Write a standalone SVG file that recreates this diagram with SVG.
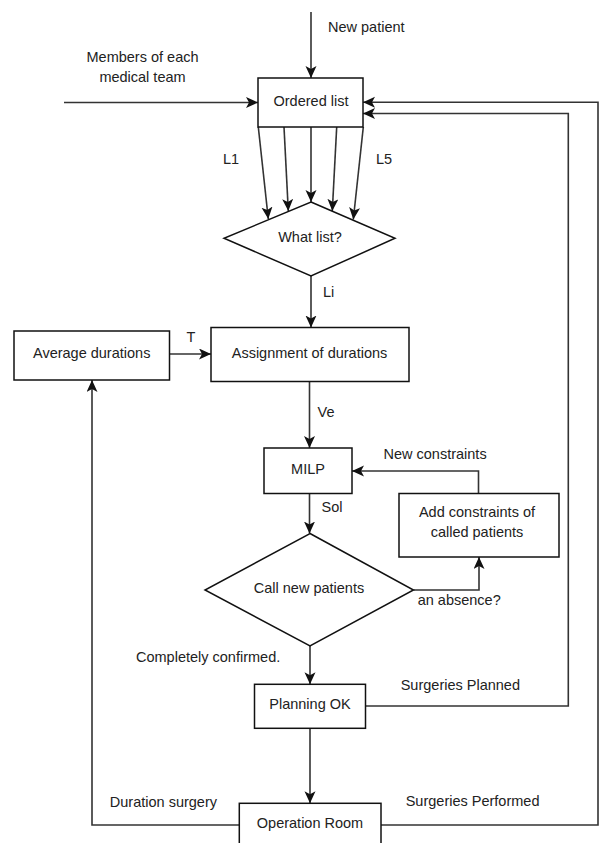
<svg xmlns="http://www.w3.org/2000/svg" width="600" height="843" viewBox="0 0 600 843">
<style>
  .box { fill: #ffffff; stroke: #111111; stroke-width: 1.5; }
  .edge { fill: none; stroke: #333333; stroke-width: 1.6; }
  text { font-family: "Liberation Sans", Arial, sans-serif; font-size: 14.5px; fill: #222222; }
  .c { text-anchor: middle; }
</style>
<defs>
  <marker id="arr" markerUnits="userSpaceOnUse" markerWidth="13" markerHeight="12" refX="12" refY="5.5" orient="auto">
    <path d="M0,0 L12,5.5 L0,11 L3,5.5 Z" fill="#111111"/>
  </marker>
</defs>
<rect width="600" height="843" fill="#ffffff"/>

<g id="connectors">
  <line class="edge" x1="311" y1="12" x2="311" y2="78" marker-end="url(#arr)"/>
  <line class="edge" x1="64" y1="102.5" x2="258" y2="102.5" marker-end="url(#arr)"/>
  <line class="edge" x1="258.3" y1="127" x2="268.3" y2="219" marker-end="url(#arr)"/>
  <line class="edge" x1="284" y1="127" x2="288.3" y2="211" marker-end="url(#arr)"/>
  <line class="edge" x1="311" y1="127" x2="311" y2="202" marker-end="url(#arr)"/>
  <line class="edge" x1="336.7" y1="127" x2="332.3" y2="211" marker-end="url(#arr)"/>
  <line class="edge" x1="363.3" y1="127" x2="353.3" y2="219.5" marker-end="url(#arr)"/>
  <line class="edge" x1="311" y1="276" x2="311" y2="327.5" marker-end="url(#arr)"/>
  <line class="edge" x1="169.5" y1="354" x2="211" y2="354" marker-end="url(#arr)"/>
  <line class="edge" x1="309.5" y1="381.5" x2="309.5" y2="448" marker-end="url(#arr)"/>
  <line class="edge" x1="309.5" y1="493.5" x2="309.5" y2="533.5" marker-end="url(#arr)"/>
  <polyline class="edge" points="478.5,493.5 478.5,471 352,471" marker-end="url(#arr)"/>
  <polyline class="edge" points="413.5,590 479,590 479,557" marker-end="url(#arr)"/>
  <line class="edge" x1="310" y1="646" x2="310" y2="684.3" marker-end="url(#arr)"/>
  <polyline class="edge" points="365.5,706 568.3,706 568.3,113.5 363,113.5" marker-end="url(#arr)"/>
  <line class="edge" x1="310" y1="728.3" x2="310" y2="803.3" marker-end="url(#arr)"/>
  <polyline class="edge" points="239.3,825 92,825 92,380" marker-end="url(#arr)"/>
  <polyline class="edge" points="381,825 598,825 598,102.3 363,102.3" marker-end="url(#arr)"/>
</g>

<g id="edge-labels">
  <text x="328" y="32">New patient</text>
  <text class="c" x="142.5" y="61.5">Members of each</text>
  <text class="c" x="142.5" y="81.5">medical team</text>
  <text x="223" y="164">L1</text>
  <text x="376" y="164">L5</text>
  <text x="323" y="296.7">Li</text>
  <text class="c" x="191" y="341.7">T</text>
  <text x="317.6" y="416.7">Ve</text>
  <text x="383.5" y="459">New constraints</text>
  <text x="321.5" y="512.3">Sol</text>
  <text x="417.7" y="605">an absence?</text>
  <text x="136" y="661.7">Completely confirmed.</text>
  <text x="400.7" y="690">Surgeries Planned</text>
  <text x="109.8" y="806.7">Duration surgery</text>
  <text x="405.7" y="805.7">Surgeries Performed</text>
</g>

<g id="ordered-list">
  <rect class="box" x="258" y="78" width="105" height="49"/>
  <text class="c" x="311" y="106">Ordered list</text>
</g>

<g id="what-list">
  <polygon class="box" points="311,202 395,238.3 311,276 224,238.3"/>
  <text class="c" x="310" y="241.5">What list?</text>
</g>

<g id="average-durations">
  <rect class="box" x="14" y="331" width="155.5" height="49"/>
  <text class="c" x="91.7" y="358.3">Average durations</text>
</g>

<g id="assignment">
  <rect class="box" x="211" y="327.5" width="198" height="54"/>
  <text class="c" x="309.5" y="358.3">Assignment of durations</text>
</g>

<g id="milp">
  <rect class="box" x="264" y="448" width="88" height="45.5"/>
  <text class="c" x="308" y="474.3">MILP</text>
</g>

<g id="add-constraints">
  <rect class="box" x="399" y="493.5" width="160" height="63.5"/>
  <text class="c" x="477" y="517.3">Add constraints of</text>
  <text class="c" x="477" y="537.3">called patients</text>
</g>

<g id="call-new-patients">
  <polygon class="box" points="310,533.5 413.5,590 310,646 205,590"/>
  <text class="c" x="309" y="593.3">Call new patients</text>
</g>

<g id="planning-ok">
  <rect class="box" x="254.5" y="684.3" width="111" height="44"/>
  <text class="c" x="310" y="709.3">Planning OK</text>
</g>

<g id="operation-room">
  <rect class="box" x="239.3" y="803.3" width="141.7" height="60"/>
  <text class="c" x="310" y="828.3">Operation Room</text>
</g>
</svg>
